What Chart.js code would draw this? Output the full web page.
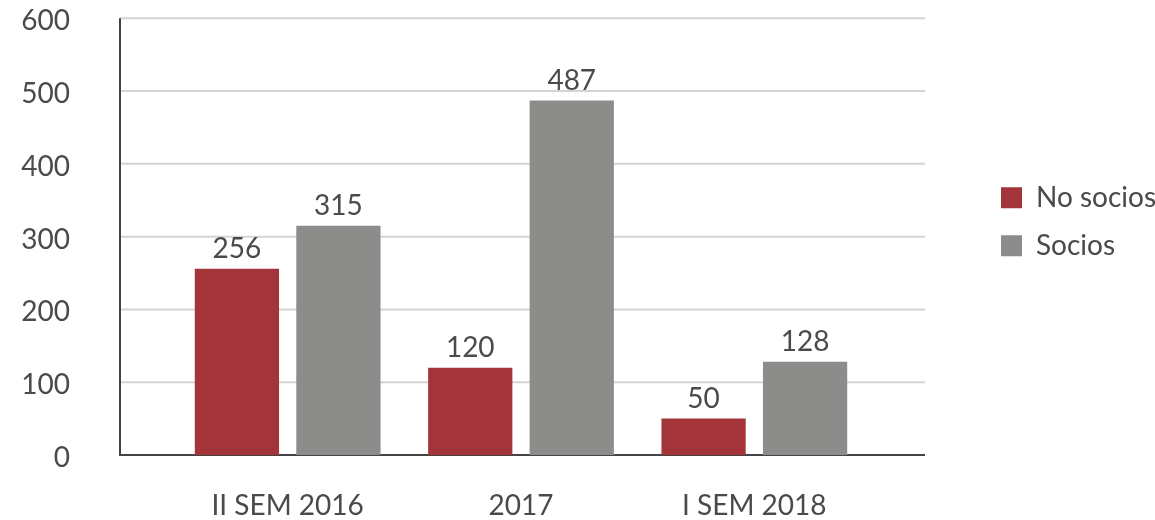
<!DOCTYPE html>
<html>
<head>
<meta charset="utf-8">
<script src="https://cdn.jsdelivr.net/npm/chart.js@4/dist/chart.umd.min.js"></script>
<style>
  html, body { margin: 0; padding: 0; background: #fff; }
  #wrap { width: 1155px; height: 520px; }
</style>
</head>
<body>
<div id="wrap"><canvas id="chart"></canvas></div>
<script>
const categories = ['II SEM 2016', '2017', 'I SEM 2018']
const noSocios = [256, 120, 50]
const socios = [315, 487, 128]
const yTicks = [0, 100, 200, 300, 400, 500, 600]

const textColor = '#4a4a4a'
const font = { family: 'Lato', size: 28 }

// horizontal grid + axis lines, wider than the bar area
const frame = {
	id: 'frame',
	beforeDatasetsDraw(chart) {
		const { ctx, chartArea, scales: { y } } = chart
		const left = chartArea.left - 51
		const right = chartArea.right + 54
		ctx.save()
		ctx.lineWidth = 2
		ctx.strokeStyle = '#d4d4d4'
		yTicks.forEach(v => {
			if (v === 0) return
			const py = y.getPixelForValue(v)
			ctx.beginPath()
			ctx.moveTo(left, py)
			ctx.lineTo(right, py)
			ctx.stroke()
		})
		ctx.strokeStyle = '#444'
		const y0 = y.getPixelForValue(0)
		ctx.beginPath()
		ctx.moveTo(left, y.getPixelForValue(600))
		ctx.lineTo(left, y0)
		ctx.lineTo(right, y0)
		ctx.stroke()
		ctx.restore()
	}
}

const valueLabels = {
	id: 'valueLabels',
	afterDatasetsDraw(chart) {
		const { ctx } = chart
		ctx.save()
		ctx.font = '28px Lato'
		ctx.fillStyle = textColor
		ctx.textAlign = 'center'
		ctx.textBaseline = 'alphabetic'
		chart.data.datasets.forEach((ds, i) => {
			chart.getDatasetMeta(i).data.forEach((bar, j) => {
				ctx.fillText(ds.data[j], bar.x, bar.y - 11)
			})
		})
		ctx.restore()
	}
}

new Chart(document.getElementById('chart'), {
	type: 'bar',
	data: {
		labels: categories,
		datasets: [{
			label: 'No socios',
			data: noSocios,
			backgroundColor: '#a3343a',
			categoryPercentage: 0.87,
			barPercentage: 0.83,
		}, {
			label: 'Socios',
			data: socios,
			backgroundColor: '#8c8c8a',
			categoryPercentage: 0.87,
			barPercentage: 0.83,
		}],
	},
	options: {
		responsive: true,
		maintainAspectRatio: false,
		animation: false,
		layout: { padding: { top: 18.3, right: 0, bottom: 0, left: 0 } },
		scales: {
			x: {
				grid: { display: false, drawTicks: false },
				border: { display: false },
				ticks: { font: font, color: textColor, padding: 34, maxRotation: 0 },
				afterFit(scale) { scale.height = 65 },
			},
			y: {
				min: 0,
				max: 600,
				grid: { display: false, drawTicks: false },
				border: { display: false },
				ticks: { stepSize: 100, font: font, color: textColor, padding: 101, labelOffset: 3 },
				afterFit(scale) {
					scale.width = 171
					scale.paddingTop = 0
					scale.paddingBottom = 0
				},
			},
			spacer: {
				type: 'linear',
				position: 'right',
				grid: { display: false, drawTicks: false },
				border: { display: false },
				ticks: { display: false },
				afterFit(scale) { scale.width = 110 },
			},
		},
		plugins: {
			tooltip: { enabled: false },
			legend: {
				position: 'right',
				align: 'start',
				maxWidth: 174,
				title: { display: true, text: '', font: { size: 10 }, padding: { top: 133.5, bottom: 0 } },
				labels: {
					boxWidth: 21,
					boxHeight: 21,
					padding: 20,
					font: font,
					color: textColor,
				},
			},
		},
	},
	plugins: [frame, valueLabels],
})
</script>
</body>
</html>
